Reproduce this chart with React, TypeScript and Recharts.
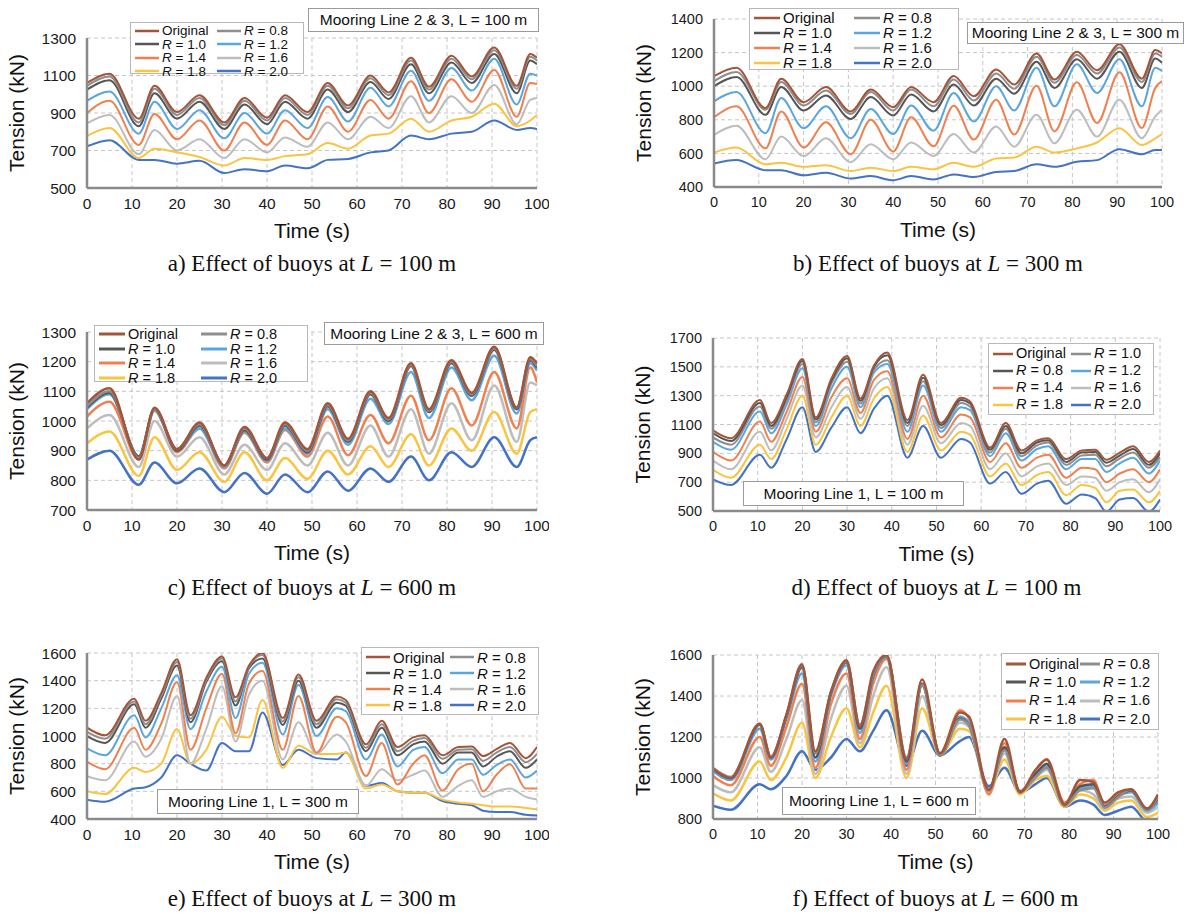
import React from 'react';
import { LineChart, Line, XAxis, YAxis, CartesianGrid, Legend } from 'recharts';

// time stamps (s) picked at the peaks / troughs of each record
const tLine23 = [0, 5, 11.5, 15, 20, 25, 30.5, 35, 40, 44, 49, 53.5, 58, 63, 67, 72, 76, 81, 85.5, 90.5, 95.5, 98.5, 100];
const tLine1 = [0, 4, 10.5, 13, 16.5, 20, 23, 26.5, 30, 33, 36, 39, 43.5, 47, 51, 55.5, 57.5, 62, 65.5, 69, 72.5, 75, 79, 82.5, 85.5, 88, 91, 94, 97.5, 100];

// mooring line 2 & 3, original (no buoy)
const orig23 = [1060, 1110, 870, 1045, 905, 995, 850, 980, 875, 995, 905, 1060, 940, 1100, 1010, 1195, 1040, 1205, 1095, 1250, 1045, 1215, 1195];

// a) L = 100 m
const a08 = [1045, 1095, 850, 1030, 890, 980, 835, 965, 860, 980, 890, 1045, 925, 1085, 995, 1180, 1025, 1190, 1080, 1235, 1030, 1200, 1180];
const a10 = [1025, 1075, 830, 1005, 870, 960, 815, 945, 840, 960, 870, 1025, 905, 1065, 975, 1160, 1005, 1170, 1060, 1215, 1005, 1180, 1160];
const a12 = [965, 1015, 790, 960, 815, 915, 765, 900, 790, 915, 820, 985, 855, 1035, 935, 1125, 965, 1140, 1020, 1190, 945, 1110, 1100];
const a14 = [900, 965, 730, 895, 760, 860, 700, 850, 730, 860, 760, 935, 800, 970, 870, 1070, 900, 1080, 960, 1130, 880, 1060, 1055];
const a16 = [845, 890, 680, 810, 700, 760, 660, 760, 690, 770, 720, 850, 760, 880, 820, 990, 850, 990, 900, 1050, 840, 970, 980];
const a18 = [778, 820, 660, 710, 690, 665, 620, 660, 650, 670, 680, 740, 710, 780, 790, 870, 800, 860, 880, 950, 830, 860, 890];
const a20 = [722, 755, 650, 650, 630, 645, 580, 600, 590, 620, 605, 650, 655, 690, 700, 780, 760, 790, 800, 860, 810, 820, 815];

// b) L = 300 m
const b08 = [1030, 1085, 860, 1025, 885, 975, 835, 965, 855, 980, 880, 1040, 915, 1075, 985, 1175, 1020, 1185, 1075, 1230, 1025, 1195, 1175];
const b10 = [1000, 1055, 830, 995, 855, 945, 805, 935, 825, 950, 850, 1010, 885, 1045, 955, 1145, 990, 1160, 1045, 1205, 990, 1165, 1140];
const b12 = [910, 965, 720, 930, 750, 880, 690, 865, 715, 885, 735, 960, 790, 1000, 855, 1110, 880, 1130, 960, 1160, 880, 1110, 1090];
const b14 = [815, 880, 630, 850, 635, 785, 595, 800, 612, 815, 642, 884, 682, 920, 712, 1003, 731, 1023, 781, 1083, 751, 990, 1030];
const b16 = [710, 765, 565, 700, 583, 690, 548, 655, 565, 665, 585, 715, 605, 760, 640, 830, 660, 860, 700, 920, 690, 820, 860];
const b18 = [605, 635, 535, 545, 520, 530, 495, 515, 495, 520, 505, 545, 520, 570, 575, 640, 605, 630, 665, 750, 650, 690, 715];
const b20 = [540, 560, 500, 500, 470, 485, 450, 465, 440, 465, 445, 475, 460, 490, 495, 535, 520, 550, 560, 625, 595, 620, 620];

// c) L = 600 m
const c08 = [1050, 1100, 875, 1040, 905, 990, 850, 975, 875, 990, 900, 1055, 935, 1095, 1005, 1190, 1035, 1200, 1090, 1245, 1045, 1210, 1185];
const c10 = [1045, 1095, 880, 1040, 900, 985, 850, 970, 870, 985, 895, 1050, 930, 1090, 1000, 1185, 1030, 1195, 1085, 1240, 1040, 1205, 1180];
const c12 = [1040, 1090, 880, 1035, 900, 975, 845, 965, 865, 975, 890, 1040, 920, 1075, 990, 1165, 1010, 1180, 1070, 1220, 1025, 1195, 1170];
const c14 = [1015, 1065, 870, 1035, 895, 975, 840, 960, 860, 970, 880, 1015, 885, 1020, 925, 1085, 935, 1110, 985, 1165, 975, 1180, 1130];
const c16 = [975, 1020, 845, 1000, 880, 945, 820, 920, 835, 925, 850, 960, 850, 985, 880, 1040, 890, 1060, 935, 1120, 930, 1130, 1120];
const c18 = [925, 965, 815, 945, 835, 895, 795, 895, 800, 875, 805, 900, 820, 915, 845, 955, 850, 975, 900, 1030, 890, 1030, 1040];
const c20 = [870, 900, 785, 860, 790, 840, 760, 825, 755, 820, 760, 830, 765, 840, 795, 880, 800, 895, 845, 945, 845, 935, 945];

// mooring line 1, original (no buoy)
const orig1 = [1060, 1005, 1270, 1110, 1310, 1555, 1150, 1420, 1575, 1280, 1510, 1600, 1130, 1445, 1110, 1285, 1260, 940, 1110, 920, 990, 1005, 860, 920, 925, 855, 905, 950, 840, 920];

// d) L = 100 m
const d08 = [1040, 985, 1250, 1090, 1290, 1540, 1135, 1405, 1560, 1265, 1500, 1580, 1110, 1425, 1095, 1270, 1245, 925, 1090, 900, 975, 990, 840, 905, 910, 835, 885, 930, 820, 900];
const d10 = [1010, 960, 1225, 1070, 1270, 1520, 1115, 1385, 1535, 1245, 1480, 1545, 1090, 1400, 1075, 1250, 1225, 905, 1070, 880, 955, 975, 820, 885, 890, 810, 865, 905, 800, 875];
const d12 = [980, 925, 1190, 1040, 1240, 1490, 1090, 1350, 1500, 1220, 1460, 1520, 1050, 1370, 1050, 1220, 1200, 880, 1040, 850, 930, 950, 790, 860, 860, 770, 830, 870, 760, 850];
const d14 = [910, 850, 1120, 980, 1190, 1430, 1050, 1290, 1420, 1180, 1410, 1470, 1000, 1300, 1010, 1170, 1150, 840, 970, 800, 870, 890, 730, 800, 790, 700, 760, 790, 700, 790];
const d16 = [850, 790, 1050, 920, 1140, 1370, 1010, 1220, 1360, 1140, 1350, 1420, 960, 1230, 970, 1110, 1090, 790, 900, 740, 810, 830, 680, 740, 730, 640, 700, 720, 630, 720];
const d18 = [785, 730, 960, 860, 1070, 1300, 960, 1150, 1300, 1090, 1280, 1360, 910, 1160, 920, 1050, 1030, 740, 830, 680, 750, 770, 610, 680, 660, 560, 640, 650, 560, 640];
const d20 = [720, 680, 890, 800, 1000, 1220, 910, 1080, 1220, 1040, 1210, 1300, 870, 1090, 870, 1000, 975, 690, 770, 620, 690, 710, 550, 615, 590, 495, 580, 590, 495, 580];

// e) L = 300 m
const e08 = [1030, 980, 1250, 1085, 1290, 1535, 1125, 1405, 1560, 1250, 1500, 1585, 1105, 1425, 1085, 1265, 1240, 915, 1085, 890, 965, 985, 835, 900, 905, 820, 880, 920, 810, 870];
const e10 = [1000, 950, 1230, 1060, 1270, 1510, 1100, 1390, 1540, 1220, 1490, 1560, 1080, 1400, 1060, 1240, 1220, 890, 1060, 860, 940, 960, 800, 880, 880, 780, 850, 890, 770, 830];
const e12 = [910, 860, 1150, 990, 1200, 1440, 1050, 1320, 1500, 1130, 1450, 1530, 1010, 1370, 1000, 1200, 1180, 830, 1010, 780, 900, 920, 730, 830, 830, 720, 790, 830, 700, 750];
const e14 = [815, 760, 1060, 900, 1090, 1390, 900, 1200, 1450, 1020, 1380, 1470, 900, 1290, 880, 1140, 1100, 710, 950, 650, 800, 860, 605, 760, 800, 600, 720, 795, 620, 620];
const e16 = [710, 680, 960, 850, 980, 1290, 800, 1050, 1360, 960, 1300, 1400, 830, 1100, 870, 1010, 960, 640, 760, 680, 720, 750, 560, 640, 680, 560, 600, 620, 560, 540];
const e18 = [600, 580, 770, 740, 800, 1050, 800, 900, 1140, 1000, 990, 1260, 770, 930, 870, 870, 880, 620, 650, 600, 590, 590, 540, 520, 510, 500, 490, 490, 480, 470];
const e20 = [540, 525, 620, 630, 700, 860, 800, 750, 950, 890, 890, 1170, 790, 900, 840, 830, 880, 640, 660, 600, 590, 590, 530, 510, 500, 460, 450, 450, 430, 425];

// f) L = 600 m
const origF = [1045, 1000, 1265, 1100, 1310, 1555, 1130, 1420, 1575, 1250, 1520, 1600, 1090, 1480, 1120, 1320, 1300, 940, 1190, 930, 1040, 1090, 870, 990, 980, 880, 930, 945, 850, 920];
const f08 = [1050, 1005, 1265, 1105, 1305, 1550, 1120, 1420, 1570, 1260, 1505, 1598, 1100, 1455, 1110, 1285, 1260, 945, 1135, 930, 1005, 1050, 865, 940, 950, 855, 905, 945, 845, 910];
const f10 = [1045, 1000, 1260, 1100, 1300, 1540, 1100, 1415, 1565, 1240, 1500, 1595, 1080, 1460, 1110, 1290, 1260, 945, 1150, 935, 1020, 1070, 870, 960, 970, 860, 910, 940, 850, 900];
const f12 = [1035, 990, 1240, 1090, 1290, 1510, 1080, 1400, 1550, 1220, 1490, 1590, 1070, 1450, 1120, 1300, 1270, 940, 1140, 930, 1020, 1060, 870, 950, 960, 860, 910, 930, 840, 880];
const f14 = [1010, 965, 1200, 1060, 1250, 1460, 1050, 1360, 1510, 1190, 1460, 1580, 1040, 1460, 1120, 1330, 1290, 920, 1170, 930, 1040, 1090, 880, 970, 990, 870, 920, 940, 850, 890];
const f16 = [965, 930, 1150, 1030, 1190, 1380, 1020, 1290, 1450, 1170, 1400, 1540, 1020, 1400, 1115, 1270, 1250, 930, 1120, 930, 1000, 1040, 870, 940, 920, 850, 900, 910, 830, 860];
const f18 = [925, 890, 1080, 990, 1100, 1270, 1000, 1200, 1340, 1150, 1320, 1450, 1000, 1340, 1110, 1240, 1230, 930, 1090, 920, 990, 1010, 860, 920, 900, 840, 880, 890, 810, 830];
const f20 = [865, 845, 970, 945, 1010, 1130, 1040, 1100, 1190, 1130, 1230, 1330, 1060, 1230, 1110, 1180, 1200, 960, 1050, 930, 970, 1000, 860, 890, 870, 820, 840, 860, 790, 800];

const xTicks = [0, 10, 20, 30, 40, 50, 60, 70, 80, 90, 100];

const SERIES = ['orig', 'r08', 'r10', 'r12', 'r14', 'r16', 'r18', 'r20'];
const RATIO: Record<string, string> = { r08: '0.8', r10: '1.0', r12: '1.2', r14: '1.4', r16: '1.6', r18: '1.8', r20: '2.0' };
const COLORS: Record<string, string> = {
  orig: '#a3553a',
  r08: '#8e8e8e',
  r10: '#565656',
  r12: '#5ba6de',
  r14: '#f08050',
  r16: '#bdbdbd',
  r18: '#f9c440',
  r20: '#4472c4',
};
const DRAW_ORDER = ['r20', 'r18', 'r16', 'r14', 'r12', 'r10', 'r08', 'orig'];

const SANS = '"Liberation Sans", Arial, sans-serif';
const SERIF = '"Liberation Serif", "Times New Roman", serif';

const YW = 84;
const MT = 10;
const MR = 12;
const XH = 60;

function rowsOf(time: number[], cols: number[][]) {
  return time.map((t, i) => {
    const row: Record<string, number> = { t };
    SERIES.forEach((k, j) => {
      row[k] = cols[j][i];
    });
    return row;
  });
}

function range(from: number, to: number, step: number) {
  const out: number[] = [];
  for (let v = from; v <= to; v += step) out.push(v);
  return out;
}

const panels = [
  {
    id: 'a', x0: 87, y0: 38, w: 450, h: 150, domain: [500, 1300], ticks: range(500, 1300, 200),
    time: tLine23, cols: [orig23, a08, a10, a12, a14, a16, a18, a20],
    legend: { x: 130, y: 22, w: 174, h: 52, font: 13.5, sw: 24 },
    box: { x: 308, y: 8, w: 231, h: 24, text: 'Mooring Line 2 & 3, L = 100 m' },
    cap: 'a)', len: '100', capY: 264, tickFont: 15.5, stroke: 2,
  },
  {
    id: 'b', x0: 714, y0: 19, w: 448, h: 168, domain: [400, 1400], ticks: range(400, 1400, 200),
    time: tLine23, cols: [orig23, b08, b10, b12, b14, b16, b18, b20],
    legend: { x: 749, y: 8, w: 210, h: 62, font: 15, sw: 26 },
    box: { x: 967, y: 22, w: 217, h: 22, text: 'Mooring Line 2 & 3, L = 300 m' },
    cap: 'b)', len: '300', capY: 264, tickFont: 14.5, stroke: 2,
  },
  {
    id: 'c', x0: 87, y0: 332, w: 450, h: 178, domain: [700, 1300], ticks: range(700, 1300, 100),
    time: tLine23, cols: [orig23, c08, c10, c12, c14, c16, c18, c20],
    legend: { x: 94, y: 325, w: 214, h: 57, font: 14.5, sw: 26 },
    box: { x: 324, y: 322, w: 220, h: 23, text: 'Mooring Line 2 & 3, L = 600 m' },
    cap: 'c)', len: '600', capY: 588, tickFont: 15.5, stroke: 2.5,
  },
  {
    id: 'd', x0: 713, y0: 338, w: 447, h: 173, domain: [500, 1700], ticks: range(500, 1700, 200),
    time: tLine1, cols: [orig1, d08, d10, d12, d14, d16, d18, d20],
    legend: { x: 988, y: 343, w: 166, h: 72, font: 14.5, sw: 20 },
    box: { x: 743, y: 481, w: 221, h: 25, text: 'Mooring Line 1, L = 100 m' },
    cap: 'd)', len: '100', capY: 588, tickFont: 14.5, stroke: 2, swapGray: true,
  },
  {
    id: 'e', x0: 87, y0: 653, w: 450, h: 166, domain: [400, 1600], ticks: range(400, 1600, 200),
    time: tLine1, cols: [orig1, e08, e10, e12, e14, e16, e18, e20],
    legend: { x: 361, y: 647, w: 178, h: 68, font: 15, sw: 24 },
    box: { x: 157, y: 789, w: 202, h: 25, text: 'Mooring Line 1, L = 300 m' },
    cap: 'e)', len: '300', capY: 899, tickFont: 15.5, stroke: 2,
  },
  {
    id: 'f', x0: 713, y0: 655, w: 445, h: 164, domain: [800, 1600], ticks: range(800, 1600, 200),
    time: tLine1, cols: [origF, f08, f10, f12, f14, f16, f18, f20],
    legend: { x: 1001, y: 653, w: 158, h: 77, font: 14.5, sw: 20 },
    box: { x: 782, y: 787, w: 194, h: 28, text: 'Mooring Line 1, L = 600 m' },
    cap: 'f)', len: '600', capY: 899, tickFont: 14.5, stroke: 2.5,
  },
];

function LegendBox({ order, colors, lg, stroke }: any) {
  return (
    <div
      style={{
        width: lg.w,
        height: lg.h,
        boxSizing: 'border-box',
        border: '1px solid #b8b8b8',
        background: '#fff',
        display: 'grid',
        gridTemplateColumns: '1fr 1fr',
        gridTemplateRows: 'repeat(4, 1fr)',
        alignItems: 'center',
        padding: '1px 4px',
        fontSize: lg.font,
        fontFamily: SANS,
        color: '#111',
        lineHeight: 1,
      }}
    >
      {order.map((k: string) => (
        <div key={k} style={{ display: 'flex', alignItems: 'center', gap: 3, whiteSpace: 'nowrap' }}>
          <svg width={lg.sw} height={6} style={{ flex: 'none' }}>
            <line x1={0} y1={3} x2={lg.sw} y2={3} stroke={colors[k]} strokeWidth={stroke + 0.5} />
          </svg>
          <span>
            {k === 'orig' ? 'Original' : (
              <>
                <i>R</i> = {RATIO[k]}
              </>
            )}
          </span>
        </div>
      ))}
    </div>
  );
}

function Panel({ p }: any) {
  const chartLeft = p.x0 - YW;
  const chartTop = p.y0 - MT;
  const colors = p.swapGray ? { ...COLORS, r08: COLORS.r10, r10: COLORS.r08 } : COLORS;
  const order = p.swapGray
    ? ['orig', 'r10', 'r08', 'r12', 'r14', 'r16', 'r18', 'r20']
    : SERIES;
  const data = rowsOf(p.time, p.cols);
  const cx = p.x0 + p.w / 2;
  const tick = { fontSize: p.tickFont, fill: '#1a1a1a', fontFamily: SANS };

  return (
    <>
      <div style={{ position: 'absolute', left: chartLeft, top: chartTop }}>
        <LineChart
          width={YW + p.w + MR}
          height={MT + p.h + XH}
          data={data}
          margin={{ top: MT, right: MR, bottom: 0, left: 0 }}
        >
          <CartesianGrid stroke="#c6c6c6" strokeDasharray="4 3" />
          <XAxis
            type="number"
            dataKey="t"
            domain={[0, 100]}
            ticks={xTicks}
            interval={0}
            allowDataOverflow
            height={XH}
            tickLine={false}
            tickSize={4}
            tickMargin={6}
            stroke="#8a8a8a"
            strokeWidth={2.5}
            tick={tick}
            label={{ value: 'Time (s)', position: 'center', dy: 13, fontSize: 21, fill: '#111', fontFamily: SANS }}
          />
          <YAxis
            type="number"
            domain={p.domain}
            ticks={p.ticks}
            interval={0}
            allowDataOverflow
            width={YW}
            tickLine={false}
            tickSize={4}
            tickMargin={7}
            stroke="#8a8a8a"
            strokeWidth={2.5}
            tick={tick}
            label={{ value: 'Tension (kN)', angle: -90, position: 'center', dx: -28, fontSize: 21, fill: '#111', fontFamily: SANS }}
          />
          {DRAW_ORDER.map((k) => (
            <Line
              key={k}
              type="monotone"
              dataKey={k}
              stroke={colors[k]}
              strokeWidth={p.stroke}
              dot={false}
              activeDot={false}
              isAnimationActive={false}
            />
          ))}
          <Legend
            layout="horizontal"
            verticalAlign="middle"
            align="center"
            wrapperStyle={{
              left: p.legend.x - chartLeft,
              top: p.legend.y - chartTop,
              width: p.legend.w,
              height: p.legend.h,
            }}
            content={() => <LegendBox order={order} colors={colors} lg={p.legend} stroke={p.stroke} />}
          />
        </LineChart>
      </div>

      {/* panel title box */}
      <div
        style={{
          position: 'absolute',
          left: p.box.x,
          top: p.box.y,
          width: p.box.w,
          height: p.box.h,
          boxSizing: 'border-box',
          border: '1px solid #9a9a9a',
          background: '#fff',
          display: 'flex',
          alignItems: 'center',
          justifyContent: 'center',
          fontFamily: SANS,
          fontSize: 15.5,
          color: '#111',
          whiteSpace: 'nowrap',
        }}
      >
        {p.box.text}
      </div>

      {/* caption */}
      <div
        style={{
          position: 'absolute',
          left: cx - 250,
          width: 500,
          top: p.capY - 14,
          lineHeight: '28px',
          textAlign: 'center',
          fontFamily: SERIF,
          fontSize: 23,
          color: '#111',
        }}
      >
        {p.cap} Effect of buoys at <i>L</i> = {p.len} m
      </div>
    </>
  );
}

export default function App() {
  return (
    <div
      style={{
        position: 'absolute',
        left: 0,
        top: 0,
        width: 1186,
        height: 915,
        background: '#fff',
        overflow: 'hidden',
        fontFamily: SANS,
      }}
    >
      {panels.map((p) => (
        <Panel key={p.id} p={p} />
      ))}
    </div>
  );
}
